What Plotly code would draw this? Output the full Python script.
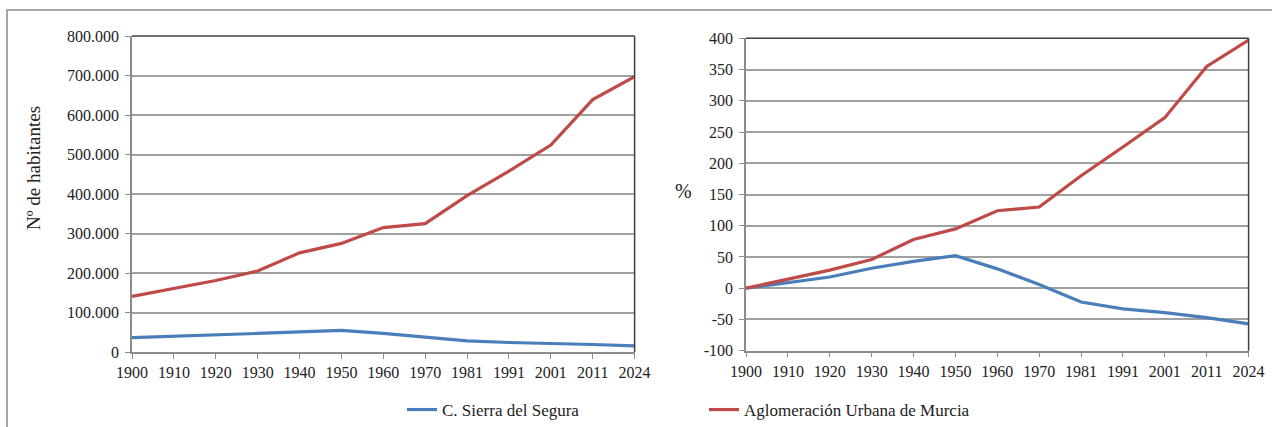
import plotly.graph_objects as go
from plotly.subplots import make_subplots

years = ["1900", "1910", "1920", "1930", "1940", "1950", "1960", "1970",
         "1981", "1991", "2001", "2011", "2024"]

# Population (Nº de habitantes)
pop_sierra = [36500, 39500, 42500, 47000, 51000, 54500, 47000, 38000,
              28000, 24000, 22000, 19000, 15500]
pop_murcia = [141000, 160000, 181000, 205000, 251000, 275000, 315000, 325000,
              396000, 458000, 524000, 639000, 697000]

# Variation (%)
pct_sierra = [0, 9, 18, 32, 43, 52, 31, 6, -22, -33, -39, -47, -57]
pct_murcia = [0, 15, 29, 46, 78, 95, 124, 130, 180, 226, 273, 355, 397]

pct_ticks = [-100, -50, 0, 50, 100, 150, 200, 250, 300, 350, 400]
pct_ticktext = ["-100", "-50", "0", "50", "100", "150", "200", "250", "300", "350", "400"]

series_names = ["C. Sierra del Segura", "Aglomeración Urbana de Murcia"]
colors = ["#4a7ebb", "#be4b48"]

W, H = 1272, 427
FONT = "Liberation Serif, Times New Roman, serif"

fig = make_subplots(rows=1, cols=2)

for i, (name, col) in enumerate(zip(series_names, colors)):
    left_vals = [pop_sierra, pop_murcia][i]
    right_vals = [pct_sierra, pct_murcia][i]
    fig.add_trace(go.Scatter(x=years, y=left_vals, mode="lines", name=name,
                             line=dict(color=col, width=3.2), showlegend=True),
                  row=1, col=1)
    fig.add_trace(go.Scatter(x=years, y=right_vals, mode="lines", name=name,
                             line=dict(color=col, width=3.2), showlegend=False),
                  row=1, col=2)

def px_x(a, b):
    return [a / W, b / W]

def px_y(top, bottom):
    return [(H - bottom) / H, (H - top) / H]

axis_common = dict(showline=True, linecolor="#8c8c8c", linewidth=1.5,
                   ticks="outside", ticklen=5, tickcolor="#8c8c8c",
                   automargin=False,
                   tickfont=dict(family=FONT, size=16, color="#222"))

fig.update_xaxes(type="category", range=[0, 12], showgrid=False,
                 domain=px_x(132, 634.6), row=1, col=1, **axis_common)
fig.update_xaxes(type="category", range=[0, 12], showgrid=False,
                 domain=px_x(746, 1248.6), row=1, col=2, **axis_common)

fig.update_yaxes(range=[0, 800000], dtick=100000, tickformat=",d",
                 showgrid=True, gridcolor="#a0a0a0", gridwidth=1.5,
                 ticklabelstandoff=3,
                 zeroline=False, domain=px_y(36, 352), row=1, col=1, **axis_common)
fig.update_yaxes(range=[-100, 400], tickmode="array", tickvals=pct_ticks,
                 ticktext=pct_ticktext, ticklabelstandoff=3,
                 showgrid=True, gridcolor="#a0a0a0", gridwidth=1.5,
                 zeroline=False, domain=px_y(38.3, 350.7), row=1, col=2, **axis_common)

shapes = [
    # outer frame
    dict(type="rect", xref="paper", yref="paper", x0=7 / W, x1=1.02,
         y0=-0.05, y1=(H - 10) / H, line=dict(color="#a6a6a6", width=2),
         fillcolor="rgba(0,0,0,0)", layer="below"),
]
for xa, ya in [("x", "y"), ("x2", "y2")]:
    shapes.append(dict(type="line", xref=f"{xa} domain", yref=f"{ya} domain",
                       x0=0, x1=1, y0=1, y1=1, line=dict(color="#404040", width=1.5)))
    shapes.append(dict(type="line", xref=f"{xa} domain", yref=f"{ya} domain",
                       x0=1, x1=1, y0=0, y1=1, line=dict(color="#404040", width=1.5)))

annotations = [
    dict(text="Nº de habitantes", xref="paper", yref="paper", x=33 / W,
         y=(H - 168) / H, textangle=-90, showarrow=False,
         font=dict(family=FONT, size=19, color="#222"), xanchor="center", yanchor="middle"),
    dict(text="%", xref="paper", yref="paper", x=683 / W, y=(H - 191) / H,
         showarrow=False, font=dict(family=FONT, size=20, color="#222"),
         xanchor="center", yanchor="middle"),
]

fig.update_layout(
    width=W, height=H,
    margin=dict(l=0, r=0, t=0, b=0, autoexpand=False),
    paper_bgcolor="white", plot_bgcolor="white",
    separators=",.",
    shapes=shapes,
    annotations=annotations,
    legend=dict(orientation="h", x=402 / W, xanchor="left",
                y=(H - 410) / H, yanchor="middle",
                entrywidth=257, entrywidthmode="pixels",
                font=dict(family=FONT, size=17, color="#222"),
                bgcolor="rgba(0,0,0,0)"),
)

fig.write_html("out.html", config={"displayModeBar": False},
               post_script="document.body.style.margin='0';document.body.style.overflow='hidden';")
